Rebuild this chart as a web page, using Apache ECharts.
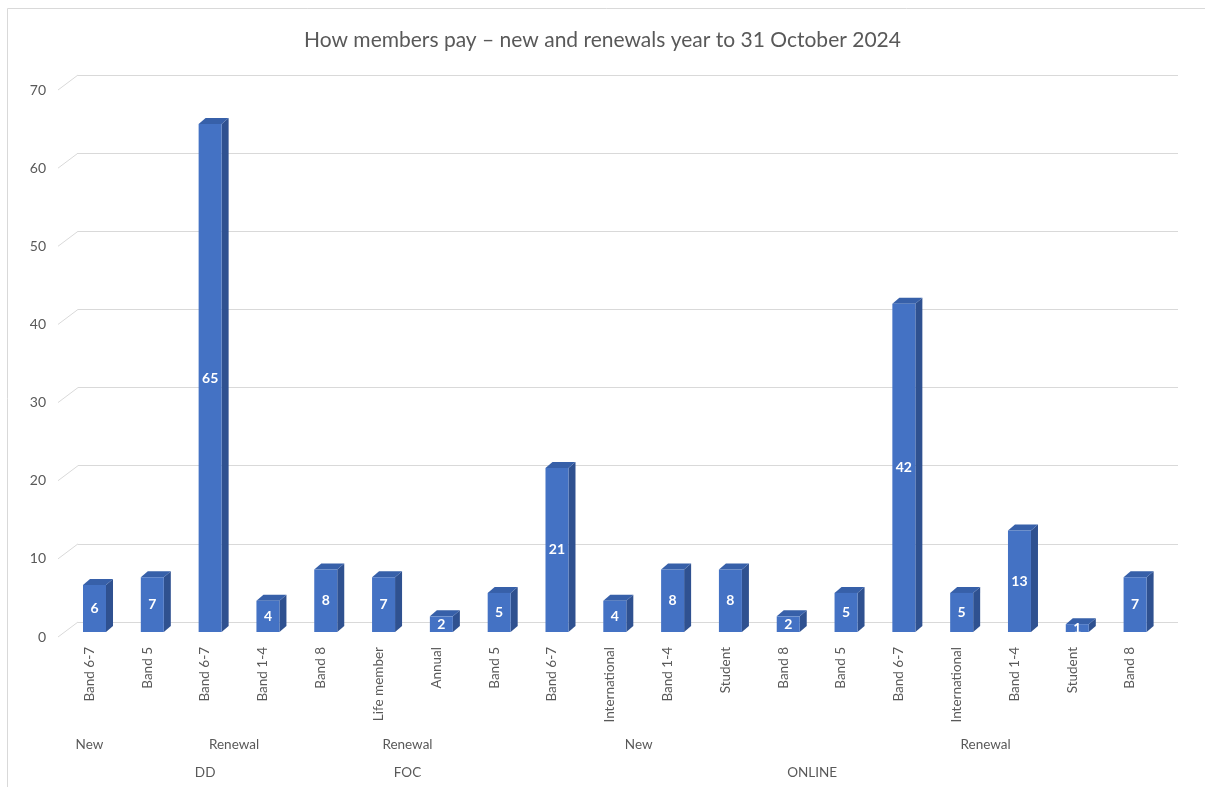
<!DOCTYPE html>
<html>
<head>
<meta charset="utf-8">
<script src="https://cdn.jsdelivr.net/npm/echarts@6/dist/echarts.min.js"></script>
<style>
  html, body { margin: 0; padding: 0; background: #fff; }
  #chart { width: 1205px; height: 787px; }
</style>
</head>
<body>
<div id="chart"></div>
<script>
// data
const categories = ["Band 6-7", "Band 5", "Band 6-7", "Band 1-4", "Band 8", "Life member", "Annual", "Band 5",
  "Band 6-7", "International", "Band 1-4", "Student", "Band 8", "Band 5", "Band 6-7", "International",
  "Band 1-4", "Student", "Band 8"];
const values = [6, 7, 65, 4, 8, 7, 2, 5, 21, 4, 8, 8, 2, 5, 42, 5, 13, 1, 7];
// second level: [first index, last index]
const subGroupNames = ["New", "Renewal", "Renewal", "New", "Renewal"];
const subGroupRanges = [[0, 0], [1, 4], [5, 6], [7, 12], [13, 18]];
// third level
const mainGroupNames = ["DD", "FOC", "ONLINE"];
const mainGroupRanges = [[0, 4], [5, 6], [7, 18]];
const yTicks = [0, 10, 20, 30, 40, 50, 60, 70];

const font = "Lato, 'Noto Sans', sans-serif";
const grey = "#595959";

let chart = echarts.init(document.getElementById("chart"));

chart.setOption({
  animation: false,
  title: {
    text: "How members pay \u2013 new and renewals year to 31 October 2024",
    left: "center",
    top: 25,
    textStyle: { fontFamily: font, fontSize: 21, fontWeight: "normal", color: grey }
  },
  graphic: [{
    type: "rect",
    shape: { x: 7.5, y: 8.5, width: 1220, height: 800 },
    style: { fill: "none", stroke: "#d9d9d9", lineWidth: 1 },
    silent: true
  }],
  grid: [
    // back wall with the grid lines
    { left: 78, right: 27, top: 75, bottom: 165 },
    // y labels, at the front edge
    { left: 58, width: 10, top: 90, bottom: 150 },
    // bars
    { left: 60.6, right: 46, top: 85, bottom: 155 }
  ],
  xAxis: [
    { gridIndex: 0, type: "category", data: categories, show: false },
    { gridIndex: 1, type: "category", data: [""], show: false },
    {
      gridIndex: 2, type: "category", data: categories,
      axisLine: { show: false }, axisTick: { show: false },
      axisLabel: { rotate: 90, margin: 15, interval: 0, fontFamily: font, fontSize: 13.5, color: grey }
    }
  ],
  yAxis: [
    {
      gridIndex: 0, type: "value", min: 0, max: 70, interval: 10,
      axisLine: { show: false }, axisTick: { show: false }, axisLabel: { show: false },
      splitLine: { lineStyle: { color: "#d9d9d9", width: 1 } }
    },
    {
      gridIndex: 1, type: "value", min: 0, max: 70, interval: 10,
      axisLine: { show: false }, axisTick: { show: false }, splitLine: { show: false },
      axisLabel: { margin: 12, fontFamily: font, fontSize: 14, color: grey }
    },
    {
      gridIndex: 2, type: "value", min: 0, max: 70, interval: 10, show: false,
      splitLine: { show: false }
    }
  ],
  series: [
    {
      // slanted side-wall stubs of the grid lines
      type: "custom",
      xAxisIndex: 0, yAxisIndex: 0,
      data: yTicks.map(v => [0, v]),
      silent: true,
      renderItem: function (params, api) {
        const y = api.coord([0, api.value(1)])[1];
        const x0 = params.coordSys.x;
        return {
          type: "line",
          shape: { x1: x0 - 20, y1: y + 15, x2: x0, y2: y },
          style: { stroke: "#d9d9d9", lineWidth: 1 }
        };
      }
    },
    {
      // 3D bars
      type: "custom",
      xAxisIndex: 2, yAxisIndex: 2,
      data: values.map((v, i) => [i, v]),
      renderItem: function (params, api) {
        const i = api.value(0), v = api.value(1);
        const top = api.coord([i, v]);
        const base = api.coord([i, 0]);
        const w = 23, d = 7, dy = 6;
        const cx = top[0] + 5;
        const xl = cx - w / 2, xr = cx + w / 2;
        const yt = top[1], yb = base[1];
        return {
          type: "group",
          children: [
            {
              type: "polygon",
              shape: { points: [[xr, yt], [xr + d, yt - dy], [xr + d, yb - dy], [xr, yb]] },
              style: { fill: "#2F5190" }
            },
            {
              type: "polygon",
              shape: { points: [[xl, yt], [xl + d, yt - dy], [xr + d, yt - dy], [xr, yt]] },
              style: { fill: "#3760A9" }
            },
            {
              type: "rect",
              shape: { x: xl, y: yt, width: w, height: yb - yt },
              style: { fill: "#4472C4" }
            },
            {
              type: "text",
              style: {
                text: String(v), x: cx, y: (yt + yb) / 2,
                align: "center", verticalAlign: "middle",
                fill: "#fff", font: "bold 14px " + font
              }
            }
          ]
        };
      }
    },
    {
      // second level category labels
      type: "custom",
      xAxisIndex: 2, yAxisIndex: 2,
      data: subGroupRanges,
      silent: true,
      renderItem: function (params, api) {
        const a = api.coord([api.value(0), 0]);
        const b = api.coord([api.value(1), 0]);
        return {
          type: "text",
          style: {
            text: subGroupNames[params.dataIndex], x: (a[0] + b[0]) / 2, y: a[1] + 113,
            align: "center", verticalAlign: "middle", fill: grey, font: "13.5px " + font
          }
        };
      }
    },
    {
      // third level category labels
      type: "custom",
      xAxisIndex: 2, yAxisIndex: 2,
      data: mainGroupRanges,
      silent: true,
      renderItem: function (params, api) {
        const a = api.coord([api.value(0), 0]);
        const b = api.coord([api.value(1), 0]);
        return {
          type: "text",
          style: {
            text: mainGroupNames[params.dataIndex], x: (a[0] + b[0]) / 2, y: a[1] + 141,
            align: "center", verticalAlign: "middle", fill: grey, font: "13.5px " + font
          }
        };
      }
    }
  ]
});
</script>
</body>
</html>
